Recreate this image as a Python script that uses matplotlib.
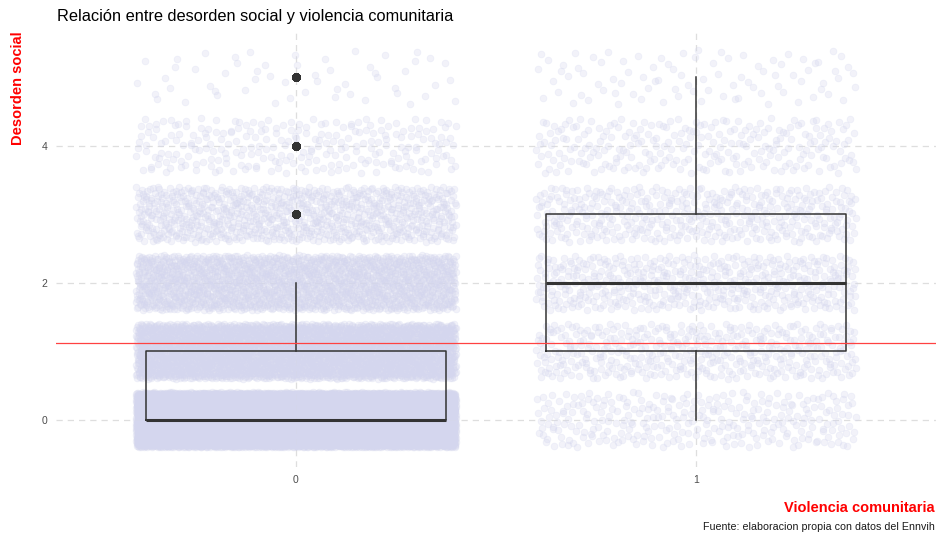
import numpy as np
import matplotlib
matplotlib.use('Agg')
import matplotlib.pyplot as plt

plt.rcParams['font.family'] = ['Liberation Sans', 'DejaVu Sans']

# counts of respondents per level of "desorden social", by violencia comunitaria (0 / 1)
levels = [0, 1, 2, 3, 4, 5]
groups = [0, 1]
group_labels = ['0', '1']
counts_0 = [9000, 3000, 1800, 850, 250, 55]
counts_1 = [300, 420, 480, 430, 250, 90]
mean_line = 1.12
y_ticks = [0, 2, 4]

title = 'Relación entre desorden social y violencia comunitaria'
xlab = 'Violencia comunitaria'
ylab = 'Desorden social'
caption = 'Fuente: elaboracion propia con datos del Ennvih'


def van_der_corput(i, base):
    out = np.zeros(len(i))
    f = 1.0 / base
    i = i.copy()
    while np.any(i > 0):
        out += f * (i % base)
        i //= base
        f /= base
    return out


def jitter_offsets(n, start):
    # deterministic jitter (Halton points), spread over [-0.4, 0.4]
    i = np.arange(start + 1, start + n + 1)
    return (van_der_corput(i, 2) - 0.5) * 0.8, (van_der_corput(i, 3) - 0.5) * 0.8


fig = plt.figure(figsize=(9.37, 5.36), dpi=100)
ax = fig.add_axes([56 / 937, 1 - 467 / 536, 880 / 937, 437 / 536])

all_vals = []
start = 17
for g, counts in zip(groups, [counts_0, counts_1]):
    xs, ys = [], []
    for lev, c in zip(levels, counts):
        dx, dy = jitter_offsets(c, start)
        start += c + 131
        xs.append(g + dx)
        ys.append(lev + dy)
    xs = np.concatenate(xs)
    ys = np.concatenate(ys)
    ax.scatter(xs, ys, s=24, color='#d4d6ee', alpha=0.3, linewidths=0.5,
               edgecolors='#d4d6ee', zorder=1, rasterized=True)
    all_vals.append(np.repeat(levels, counts))

ax.boxplot(all_vals, positions=groups, widths=0.75, showcaps=False,
           boxprops=dict(color='#333333', lw=1.1),
           whiskerprops=dict(color='#333333', lw=1.1),
           medianprops=dict(color='#333333', lw=2.2),
           flierprops=dict(marker='o', markerfacecolor='#333333',
                           markeredgecolor='#333333', markersize=5),
           zorder=3)

ax.axhline(mean_line, color='#ff4242', lw=0.9, zorder=4)

ax.set_xlim(-0.6, 1.6)
ax.set_ylim(-0.69, 5.69)
ax.set_xticks(groups)
ax.set_xticklabels(group_labels)
ax.set_yticks(y_ticks)
ax.tick_params(length=0, labelsize=7.5, labelcolor='#4d4d4d')
ax.tick_params(axis='x', pad=6)
ax.tick_params(axis='y', pad=6)
ax.grid(True, color='#dedede', linestyle=(0, (5, 4)), lw=0.9)
ax.set_axisbelow(True)
for s in ax.spines.values():
    s.set_visible(False)

fig.text(57 / 937, 1 - 16 / 536, title, fontsize=11.8, va='center', ha='left')
fig.text(18 / 937, 1 - 31 / 536, ylab, rotation=90, va='top', ha='center',
         color='#ff0000', fontsize=10.5, fontweight='bold')
fig.text(935 / 937, 1 - 508 / 536, xlab, va='center', ha='right',
         color='#ff0000', fontsize=10.5, fontweight='bold')
fig.text(935 / 937, 1 - 527 / 536, caption, va='center', ha='right',
         fontsize=7.7, color='#1a1a1a')

fig.savefig('out.png', dpi=100)
